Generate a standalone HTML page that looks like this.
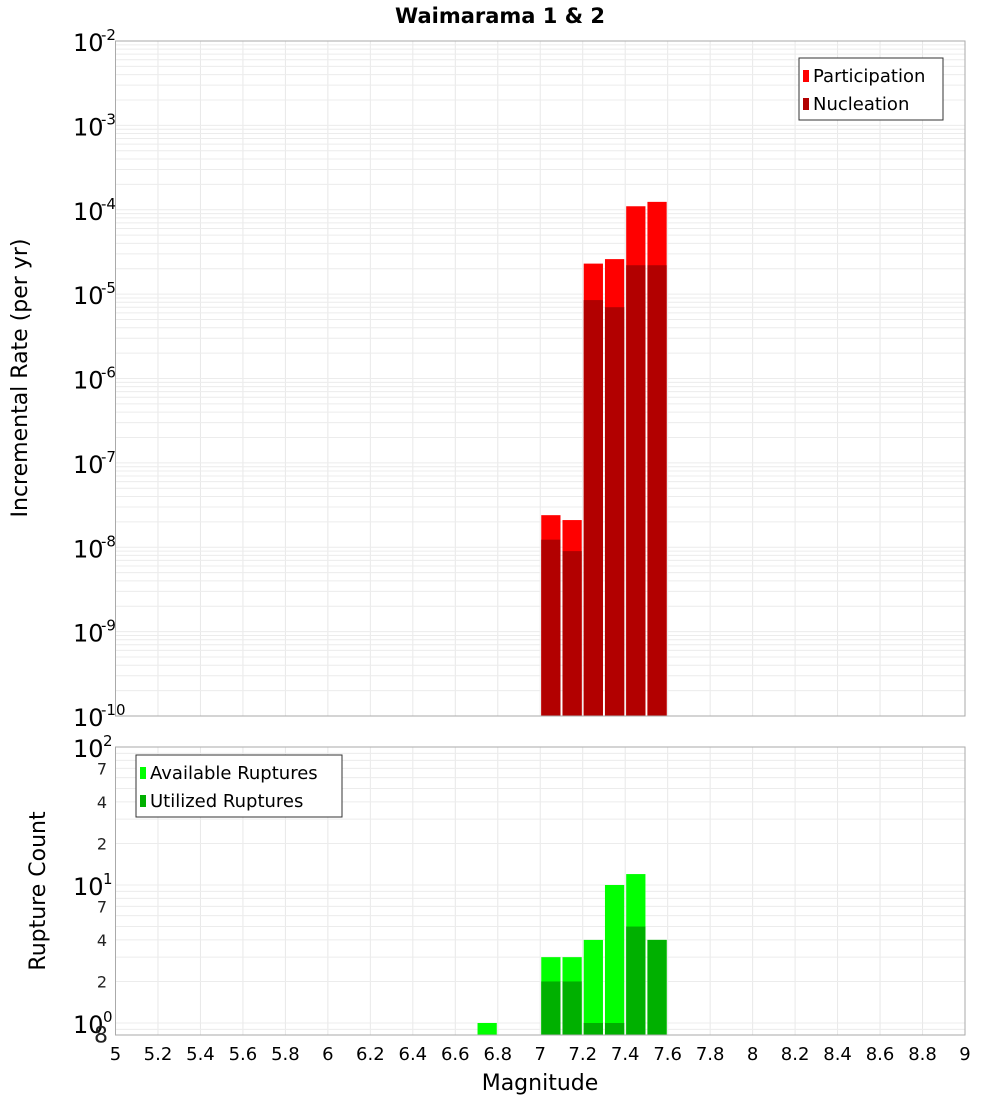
<!DOCTYPE html>
<html><head><meta charset="utf-8"><style>
html,body{margin:0;padding:0;background:#fff}
svg{display:block;font-family:"DejaVu Sans","Liberation Sans",sans-serif}
</style></head><body>
<svg id="c" width="1000" height="1100" xmlns="http://www.w3.org/2000/svg">
<text x="500" y="23" text-anchor="middle" font-size="21" font-weight="bold">Waimarama 1 &amp; 2</text>
<g id="top"></g>
<g id="bot"></g>
<text transform="translate(27,378) rotate(-90)" text-anchor="middle" font-size="22">Incremental Rate (per yr)</text>
<text transform="translate(45,891) rotate(-90)" text-anchor="middle" font-size="22">Rupture Count</text>
<text x="540" y="1090" text-anchor="middle" font-size="22">Magnitude</text>
</svg>
<script>
const mags=[6.7,7.0,7.1,7.2,7.3,7.4,7.5];
const partRates=[0,2.4e-8,2.1e-8,2.3e-5,2.6e-5,1.1e-4,1.24e-4];
const nuclRates=[0,1.23e-8,9e-9,8.5e-6,7e-6,2.2e-5,2.2e-5];
const availCounts=[1,3,3,4,10,12,4];
const usedCounts=[0,2,2,1,1,5,4];
const xTicks=[5,5.2,5.4,5.6,5.8,6,6.2,6.4,6.6,6.8,7,7.2,7.4,7.6,7.8,8,8.2,8.4,8.6,8.8,9];
const rateExps=[-2,-3,-4,-5,-6,-7,-8,-9,-10];
const NS="http://www.w3.org/2000/svg";
const X0=115.5,X1=965;
const xs=m=>X0+(m-5)/4*(X1-X0);
const TY0=41,TY1=716;
const yTop=v=>TY0+(-2-Math.log10(v))/8*(TY1-TY0);
const BY0=747,BY1=1035,DEC=138;
const yBot=v=>1023-Math.log10(v)*DEC;
function el(p,t,a,name){const e=document.createElementNS(NS,t);for(const k in a)e.setAttribute(k,a[k]);


p.appendChild(e);return e;}
const gTop=document.getElementById('top'),gBot=document.getElementById('bot');
for(const t of xTicks){el(gTop,'line',{x1:xs(t),x2:xs(t),y1:TY0,y2:TY1,stroke:'#e8e8e8'},'grid-x');el(gBot,'line',{x1:xs(t),x2:xs(t),y1:BY0,y2:BY1,stroke:'#e8e8e8'},'grid-x');}
for(let e=-10;e<-2;e++)for(let k=1;k<10;k++){const y=yTop(k*Math.pow(10,e));el(gTop,'line',{x1:X0,x2:X1,y1:y,y2:y,stroke:'#ececec'},'grid-y');}
for(let e=-1;e<2;e++)for(let k=1;k<10;k++){const y=yBot(k*Math.pow(10,e));if(y<BY0||y>BY1)continue;el(gBot,'line',{x1:X0,x2:X1,y1:y,y2:y,stroke:'#ececec'},'grid-y');}
mags.forEach((m,i)=>{
 const bx=xs(m)+1,bw=xs(m+0.1)-xs(m)-2;
 if(partRates[i]>0){el(gTop,'rect',{x:bx,y:yTop(partRates[i]),width:bw,height:TY1-yTop(partRates[i]),fill:'#ff0000'},'participation-bar');}
 if(nuclRates[i]>0){el(gTop,'rect',{x:bx,y:yTop(nuclRates[i]),width:bw,height:TY1-yTop(nuclRates[i]),fill:'#b20000'},'nucleation-bar');}
 if(availCounts[i]>0){el(gBot,'rect',{x:bx,y:yBot(availCounts[i]),width:bw,height:BY1-yBot(availCounts[i]),fill:'#00ff00'},'available-bar');}
 if(usedCounts[i]>0){el(gBot,'rect',{x:bx,y:yBot(usedCounts[i]),width:bw,height:BY1-yBot(usedCounts[i]),fill:'#00b000'},'utilized-bar');}
});
el(gTop,'rect',{x:X0,y:TY0,width:X1-X0,height:TY1-TY0,fill:'none',stroke:'#aaa'},'plot-frame');
el(gBot,'rect',{x:X0,y:BY0,width:X1-X0,height:BY1-BY0,fill:'none',stroke:'#aaa'},'plot-frame');
for(const e of rateExps){const y=yTop(Math.pow(10,e));const t=el(gTop,'text',{x:73,y:y+10,'font-size':24},'y-tick-label');t.textContent='10';const s=el(gTop,'text',{x:101,y:y-1,'font-size':15},'y-tick-exp');s.textContent=String(e);}
[[100,'2'],[10,'1'],[1,'0']].forEach(([v,e])=>{const y=yBot(v);const t=el(gBot,'text',{x:73,y:y+10,'font-size':24},'y-tick-label');t.textContent='10';const s=el(gBot,'text',{x:103,y:y-1,'font-size':15},'y-tick-exp');s.textContent=e;});
[[40,'4'],[70,'7'],[20,'2'],[4,'4'],[7,'7'],[2,'2'],[0.8,'8']].forEach(([v,l])=>{const y=yBot(v);const t=el(gBot,'text',{x:v===0.8?108:107,y:y+6,'font-size':v===0.8?22:16,'text-anchor':'end',fill:'#222'},'y-minor-label');t.textContent=l;});
for(const t of xTicks){const e=el(gBot,'text',{x:xs(t),y:1060,'font-size':18,'text-anchor':'middle'},'x-tick-label');e.textContent=String(t);}
function legend(p,x0,y0,w,items){el(p,'rect',{x:x0,y:y0,width:w,height:62,fill:'#fff',stroke:'#333'},'legend-box');items.forEach(([c,l],i)=>{el(p,'rect',{x:x0+4,y:y0+12+i*28,width:6,height:12,fill:c},'legend-swatch');const t=el(p,'text',{x:x0+14,y:y0+24+i*28,'font-size':18},'legend-entry');t.textContent=l;});}
legend(gTop,799,58,144,[['#ff0000','Participation'],['#b20000','Nucleation']]);
legend(gBot,136,755,206,[['#00ff00','Available Ruptures'],['#00b000','Utilized Ruptures']]);
</script>
</body></html>
